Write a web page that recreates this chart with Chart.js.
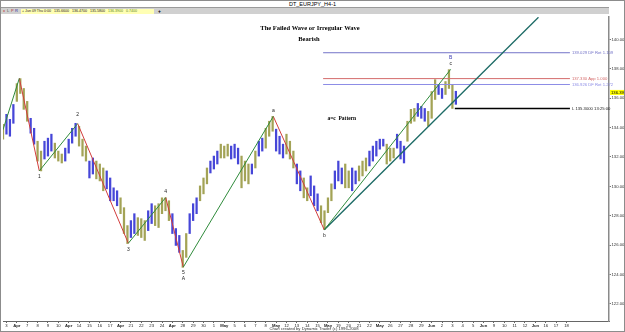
<!DOCTYPE html>
<html>
<head>
<meta charset="utf-8">
<script src="https://cdn.jsdelivr.net/npm/chart.js@4/dist/chart.umd.min.js"></script>
<style>
body{margin:0;background:#fff}
#wrap{position:relative;width:625px;height:332px;overflow:hidden;font-family:"Liberation Sans",Arial,sans-serif;background:#fff}
#frame{position:absolute;left:0;top:0;width:623px;height:330px;border:1px solid #8c8c8c;pointer-events:none}
#ttl{position:absolute;left:0;top:0;width:625px;height:7px;text-align:center;font-size:5.5px;line-height:8px;color:#000}
#tools{position:absolute;left:1px;top:7px;width:608px;height:6px;background:#d0d0d0;border-top:1px solid #9a9a9a;font-size:4px;line-height:6px;white-space:nowrap}
#tools span.k{position:absolute;top:0}
#info{position:absolute;left:20px;top:0.5px;width:133px;height:5px;background:#ffffb4;line-height:5px;font-size:3.6px;color:#222}
#info b{font-weight:normal;color:#5a8a1a}
#plus{position:absolute;left:157px;top:0;font-weight:bold;font-size:5px}
#box{position:absolute;left:0;top:14px;width:625px;height:318px}
</style>
</head>
<body>
<div id="wrap">
  <div id="ttl">DT_EURJPY_H4-1</div>
  <div id="tools">
    <span class="k" style="left:2px;color:#c02020">x</span>
    <span class="k" style="left:6px;color:#555">L</span>
    <span class="k" style="left:10px;color:#b03030">P</span>
    <span class="k" style="left:14px;color:#3030a0">R</span>
    <div id="info">&nbsp;+ Jun 09 Thu 0:00 &nbsp; 135.6600 &nbsp; 136.4700 &nbsp; 135.5800 &nbsp; <b>136.3900 &nbsp; 0.7400</b></div>
    <span id="plus">+</span>
  </div>
  <div id="box"><canvas id="c" width="625" height="318"></canvas></div>
  <div id="frame"></div>
</div>
<script>
// day labels on the time axis, one per trading day (Mondays show the month)
const dayLabels = ['3','Apr','7','8','9','10','Apr','14','15','16','17','Apr','21','22','23','24','Apr','28','29','30','1',
  'May','5','6','7','8','May','12','13','14','15','May','19','20','21','22','May','26','27','28','29',
  'Jun','2','3','4','5','Jun','9','10','11','12','Jun','16','17','18']

// price axis labels
const yTicks = [122,124,126,128,130,132,134,136,138,140]

// H4 bars
const barHigh = [134.22,134.90,134.56,135.57,136.99,137.33,136.66,135.78,134.63,133.95,
  133.07,132.40,133.07,133.28,133.55,132.94,132.40,132.20,132.60,133.21,
  133.95,134.29,134.09,133.21,132.74,131.72,131.93,131.72,131.52,131.25,
  131.05,130.57,129.90,129.70,129.22,128.55,127.33,127.67,128.14,127.87,
  127.80,127.67,128.34,128.82,128.68,128.82,129.22,129.22,129.02,128.14,
  127.13,126.66,125.64,126.79,128.14,128.82,129.22,130.03,130.57,131.25,
  131.72,132.06,132.40,132.87,132.74,132.87,132.74,132.87,132.60,132.06,
  131.72,131.52,131.52,132.40,133.07,133.28,133.95,134.43,134.76,133.89,
  133.41,132.87,133.55,133.07,132.40,131.52,131.05,130.57,129.90,130.71,
  130.03,129.49,128.68,128.34,129.22,130.17,131.05,131.72,131.25,131.52,
  131.05,131.25,131.05,131.39,131.72,131.93,132.40,132.74,133.07,133.21,
  133.21,132.87,132.60,132.60,133.55,133.07,132.74,134.43,135.24,135.30,
  135.64,135.44,135.30,135.10,136.45,137.26,136.93,136.66,137.13,137.94,
  136.93,136.47]
const barLow = [133.21,133.55,133.41,134.29,135.78,136.32,135.24,134.43,133.62,132.87,
  131.72,131.05,131.86,132.06,132.40,131.93,131.72,131.59,131.72,132.26,
  132.94,133.41,132.74,132.06,131.72,130.57,130.84,130.51,130.37,129.70,
  129.83,129.02,129.02,128.68,128.14,126.79,126.11,126.52,126.79,126.66,
  126.52,126.32,126.99,127.47,127.33,127.20,128.14,128.34,127.67,126.79,
  125.98,125.51,124.49,125.17,126.79,127.67,128.14,129.02,129.49,130.17,
  130.91,131.18,131.52,131.93,131.93,132.06,131.86,131.93,131.52,129.90,
  130.37,130.17,130.84,131.25,132.06,132.40,132.60,133.41,133.75,132.40,
  132.20,131.93,132.20,131.86,131.25,130.17,129.70,129.22,129.02,129.36,
  128.68,128.34,127.53,127.06,128.21,129.02,129.83,130.37,130.17,129.90,
  129.90,129.70,130.17,130.37,130.71,131.05,131.39,131.72,132.06,132.53,
  132.74,131.52,131.72,131.93,132.60,131.86,131.59,133.07,134.29,134.43,
  134.76,134.63,134.43,134.09,134.63,135.91,136.25,135.98,136.25,136.66,
  135.30,135.58]
// b = blue bar, o = olive bar
const barSide = 'obbboooobboobbbooobbbbooobbooobbbbooobbooobbooooobbboobbbooobbbooobbbooobobbooobbbooobboobbboooobbboobbooobbbbbooobbbooobbbooobbooob'

// wave count pivots (bar index, price)
const waveX = [0, 4.72, 10.5, 21.6, 36.25, 47.07, 52.16, 78.19, 92.94, 129.5]
const waveY = [133.85, 137.35, 131.05, 134.27, 126.13, 129.24, 124.51, 134.76, 127.04, 137.96]
const waveLbl = ['', '', '1', '2', '3', '4', '5', 'a', 'b', 'c']
const waveLbl2 = ['', '', '', '', '', '', 'A', '', '', 'B']

// trend line from b
const trendX = [92.94, 154.9]
const trendY = [127.04, 141.5]

// target levels
const levelY = [139.09, 137.33, 136.93, 135.3]
const levelFrom = [92.6, 92.6, 92.6, 130.7]
const levelTo = [164, 164, 164, 164]
const levelText = ['139.029 DF Ret 1.109', '137.330 App 1.000', '136.926 DF Ret 1.272', 'L 135.3000 13:25:00']
const lastPrice = 136.39

const levelColor = ['#7474c8', '#d46a6a', '#8c8ce6', '#000000']
const upColor = '#2f8b3b', downColor = '#d23c3c'

const bars = barHigh.map((h, i) => ({x: i, y: [barLow[i], h]}))

let upLegs = [], downLegs = []
for (let i = 0; i < waveX.length - 1; i++) {
  let leg = waveY[i + 1] > waveY[i] ? upLegs : downLegs
  leg.push({x: waveX[i], y: waveY[i]}, {x: waveX[i + 1], y: waveY[i + 1]}, {x: waveX[i + 1], y: null})
}

const datasets = [
  {type: 'line', data: upLegs, borderColor: upColor, borderWidth: 1, pointRadius: 0, spanGaps: false, order: 1},
  {type: 'line', data: downLegs, borderColor: downColor, borderWidth: 1, pointRadius: 0, spanGaps: false, order: 1},
  {type: 'line', data: trendX.map((v, i) => ({x: v, y: trendY[i]})), borderColor: '#1d6b66', borderWidth: 1.4, pointRadius: 0, order: 1}
]
levelY.forEach((v, i) => {
  datasets.push({type: 'line', data: [{x: levelFrom[i], y: v}, {x: levelTo[i], y: v}],
    borderColor: levelColor[i], borderWidth: i == 3 ? 1.6 : 1, pointRadius: 0, order: 2})
})
datasets.push({type: 'bar', data: bars, barThickness: 1.6, grouped: false, order: 5,
  backgroundColor: c => barSide[c.dataIndex] == 'b' ? '#4646d8' : '#a3a356'})

const overlay = {
  id: 'overlay',
  afterDatasetsDraw(chart) {
    const {ctx, scales: {x, y}} = chart
    ctx.save()
    ctx.textAlign = 'center'
    ctx.textBaseline = 'middle'
    // headline notes
    ctx.fillStyle = '#000'
    ctx.font = 'bold 6.5px "Liberation Serif"'
    ctx.fillText('The Failed Wave or Irregular Wave', x.getPixelForValue(88.8), y.getPixelForValue(140.78))
    ctx.fillText('Bearish', x.getPixelForValue(88.5), y.getPixelForValue(140.03))
    ctx.font = 'bold 5.5px "Liberation Serif"'
    ctx.fillText('a=c  Pattern', x.getPixelForValue(98), y.getPixelForValue(134.63))
    // wave labels
    ctx.font = '5px "Liberation Sans"'
    waveLbl.forEach((t, i) => {
      if (!t) return
      const peak = i > 0 && waveY[i] > waveY[i - 1]
      const px = x.getPixelForValue(waveX[i]), py = y.getPixelForValue(waveY[i])
      const d = peak ? (t == '2' ? -9 : -6) : 6
      ctx.fillStyle = '#222'
      ctx.fillText(t, px, py + d)
      if (waveLbl2[i]) {
        ctx.fillStyle = peak ? '#3a3ab0' : '#222'
        ctx.fillText(waveLbl2[i], px, py + d * 2)
      }
    })
    // level texts
    ctx.textAlign = 'left'
    ctx.font = '4.2px "Liberation Sans"'
    levelY.forEach((v, i) => {
      ctx.fillStyle = levelColor[i] == '#000000' ? '#222' : levelColor[i]
      ctx.fillText(levelText[i], x.getPixelForValue(levelTo[i]) + 2, y.getPixelForValue(v))
    })
    // last price box on the price axis
    const ly = y.getPixelForValue(lastPrice)
    ctx.fillStyle = '#ffff00'
    ctx.fillRect(chart.chartArea.right + 1, ly - 2.5, 15, 5)
    ctx.fillStyle = '#000'
    ctx.font = '4.2px "Liberation Sans"'
    ctx.fillText(lastPrice.toFixed(3), chart.chartArea.right + 2, ly)
    // footer
    ctx.textAlign = 'center'
    ctx.fillStyle = '#333'
    ctx.font = '4.2px "Liberation Sans"'
    ctx.fillText('Chart created by Dynamic Trader (c) 1996-2008', 314, chart.height - 3)
    ctx.restore()
  }
}

new Chart(document.getElementById('c'), {
  type: 'bar',
  data: {datasets: datasets},
  options: {
    responsive: false,
    animation: false,
    layout: {padding: {left: 3, top: 1, right: 0, bottom: 0}},
    plugins: {legend: {display: false}, tooltip: {enabled: false}},
    scales: {
      x: {
        type: 'linear', min: 0, max: 175.3, offset: false,
        afterBuildTicks: s => { s.ticks = dayLabels.map((d, i) => ({value: 1 + 3 * i})) },
        afterFit: s => { s.height = 11 },
        grid: {drawOnChartArea: false, tickLength: 2, color: '#666', offset: false},
        border: {color: '#666', width: 1},
        ticks: {
          autoSkip: false, maxRotation: 0, padding: 0, color: '#222',
          font: c => ({size: 4.2, family: 'Liberation Sans', weight: isNaN(dayLabels[c.index]) ? 'bold' : 'normal'}),
          callback: (v, i) => dayLabels[i]
        }
      },
      y: {
        position: 'right', min: 120.84, max: 141.52,
        afterBuildTicks: s => { s.ticks = yTicks.map(v => ({value: v})) },
        afterFit: s => { s.width = 16 },
        grid: {drawOnChartArea: false, tickLength: 2, color: '#777'},
        border: {color: '#8a8a8a', width: 1.5},
        ticks: {padding: 0.5, color: '#333', font: {size: 4.2, family: 'Liberation Sans'}, callback: v => v.toFixed(3)}
      }
    }
  },
  plugins: [overlay]
})
</script>
</body>
</html>
